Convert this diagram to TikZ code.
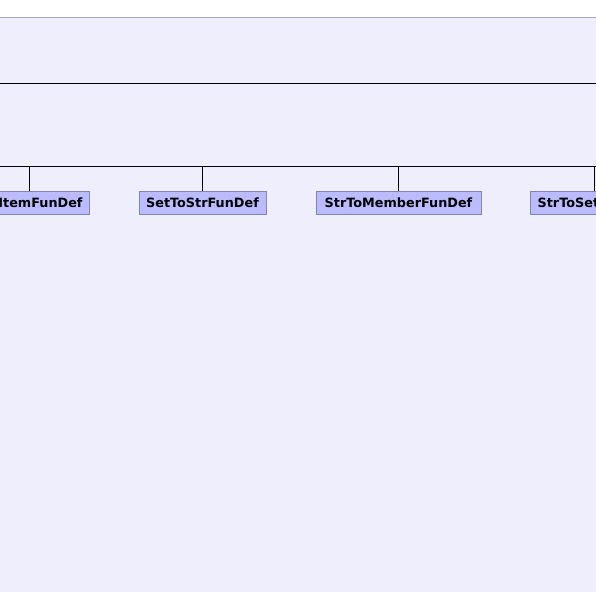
\documentclass[tikz,border=0pt]{standalone}
\usepackage{fontspec}
\setmainfont{DejaVu Sans}
\usepackage{xcolor}
\usetikzlibrary{positioning}
\definecolor{panelbg}{HTML}{EEEEFC}
\definecolor{panelrule}{HTML}{A8A8B4}
\definecolor{boxfill}{HTML}{BBBBFF}
\definecolor{boxline}{HTML}{8484BC}

\begin{document}
\begin{tikzpicture}[
  x=1pt, y=-1pt,
  fundef/.style={draw=boxline, fill=boxfill, minimum height=23pt, inner sep=0pt,
    align=center, font=\fontsize{12.8}{14}\selectfont\bfseries},
  link/.style={draw=black, line width=0.9pt}
]
\useasboundingbox (0,0) rectangle (596,592);
\fill[white] (0,0) rectangle (596,17);
\fill[panelbg] (0,17) rectangle (596,592);
\draw[panelrule, line width=1pt] (0,17) -- (596,17);
\clip (0,0) rectangle (596,592);
% frame edge and bus
\coordinate (frameL) at (0,83);
\coordinate (frameR) at (596,83);
\coordinate (busL) at (0,166);
\coordinate (busR) at (596,166);
\draw[link] (frameL) -- (frameR);
\draw[link] (busL) -- (busR);
% function definitions
\node[fundef, minimum width=120pt, text width=107pt, align=right] (item) at (29,202.5) {ItemFunDef};
\node[fundef, minimum width=127pt] (settostr) at (202.5,202.5) {SetToStrFunDef};
\node[fundef, minimum width=165pt] (strtomember) at (398.5,202.5) {StrToMemberFunDef};
\node[fundef, minimum width=127pt] (strtoset) at (594,202.5) {StrToSetFunDef};
\draw[link] (item.north |- busL) -- (item);
\draw[link] (settostr.north |- busL) -- (settostr);
\draw[link] (strtomember.north |- busL) -- (strtomember);
\draw[link] (strtoset.north |- busL) -- (strtoset);
\end{tikzpicture}
\end{document}
